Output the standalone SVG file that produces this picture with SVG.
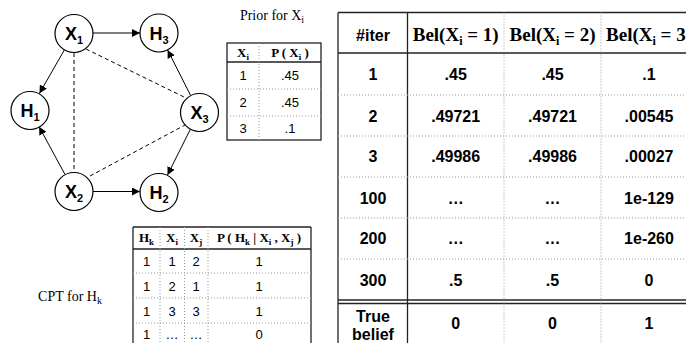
<svg xmlns="http://www.w3.org/2000/svg" width="686" height="343" viewBox="0 0 686 343">
<style>
.node{fill:#fff;stroke:#000;stroke-width:1.2}
.nl{font-family:"Liberation Sans",Arial,sans-serif;font-weight:bold;font-size:18px;text-anchor:middle}
.sub{font-size:11px}
.edge{stroke:#000;stroke-width:1;fill:none}
.dash{stroke:#000;stroke-width:1;fill:none;stroke-dasharray:4,3}
.tb{stroke:#222;stroke-width:1.3;fill:none}
.dot{stroke:#999;stroke-width:1;stroke-dasharray:1,2;fill:none}
.ts{font-family:"Liberation Serif","Times New Roman",serif;font-size:14px}
.th{font-family:"Liberation Serif","Times New Roman",serif;font-weight:bold;font-size:13px;text-anchor:middle}
.tc{font-family:"Liberation Sans",Arial,sans-serif;font-size:13px;text-anchor:middle}
.mh{font-family:"Liberation Serif","Times New Roman",serif;font-weight:bold;font-size:19px;text-anchor:middle}
.mc{font-family:"Liberation Sans",Arial,sans-serif;font-weight:bold;font-size:16px;text-anchor:middle}
</style>
<defs>
<marker id="arr" viewBox="0 0 10 10" refX="10" refY="5" markerWidth="8" markerHeight="8" markerUnits="userSpaceOnUse" orient="auto">
<path d="M0,0 L10,5 L0,10 z" fill="#000"/>
</marker>
</defs>
<g id="connectors">
<line class="edge" x1="93" y1="33" x2="140" y2="33" marker-end="url(#arr)"/>
<line class="edge" x1="64.6" y1="49.5" x2="39.4" y2="93.5" marker-end="url(#arr)"/>
<line class="edge" x1="64.9" y1="174.3" x2="39.1" y2="126.7" marker-end="url(#arr)"/>
<line class="edge" x1="93" y1="191.5" x2="140" y2="191.5" marker-end="url(#arr)"/>
<line class="edge" x1="190.4" y1="95" x2="167.6" y2="50" marker-end="url(#arr)"/>
<line class="edge" x1="190.5" y1="129" x2="167.5" y2="175" marker-end="url(#arr)"/>
<line class="dash" x1="74" y1="53" x2="74" y2="172"/>
<line class="dash" x1="86" y1="49" x2="184" y2="97"/>
<line class="dash" x1="90" y1="176" x2="185" y2="125"/>
</g>
<g id="X1"><circle class="node" cx="74" cy="33.5" r="19"/><text class="nl" x="74" y="40">X<tspan class="sub" dy="4">1</tspan></text></g>
<g id="H3"><circle class="node" cx="159" cy="33" r="19"/><text class="nl" x="159" y="39.5">H<tspan class="sub" dy="4">3</tspan></text></g>
<g id="H1"><circle class="node" cx="30" cy="110.5" r="19"/><text class="nl" x="30" y="117">H<tspan class="sub" dy="4">1</tspan></text></g>
<g id="X3"><circle class="node" cx="199.5" cy="112.5" r="19"/><text class="nl" x="199.5" y="119">X<tspan class="sub" dy="4">3</tspan></text></g>
<g id="X2"><circle class="node" cx="74" cy="191.5" r="19"/><text class="nl" x="74" y="198">X<tspan class="sub" dy="4">2</tspan></text></g>
<g id="H2"><circle class="node" cx="159" cy="192.5" r="19"/><text class="nl" x="159" y="199">H<tspan class="sub" dy="4">2</tspan></text></g>

<g id="prior">
<text class="ts" x="272" y="20" text-anchor="middle">Prior for X<tspan font-size="10" dy="3">i</tspan></text>
<rect class="tb" x="227" y="43" width="94" height="97"/>
<line class="tb" x1="227" y1="62" x2="321" y2="62"/>
<line class="dot" x1="227" y1="89" x2="321" y2="89"/>
<line class="dot" x1="227" y1="116" x2="321" y2="116"/>
<line class="dot" x1="259" y1="43" x2="259" y2="140"/>
<text class="th" x="243" y="57">X<tspan font-size="9" dy="3">i</tspan></text>
<text class="th" x="290" y="57">P ( X<tspan font-size="9" dy="3">i</tspan><tspan dy="-3"> )</tspan></text>
<text class="tc" x="243" y="80">1</text><text class="tc" x="290" y="80">.45</text>
<text class="tc" x="243" y="107">2</text><text class="tc" x="290" y="107">.45</text>
<text class="tc" x="243" y="133">3</text><text class="tc" x="290" y="133">.1</text>
</g>

<g id="cpt">
<text class="ts" x="70" y="301" text-anchor="middle">CPT for H<tspan font-size="10" dy="3">k</tspan></text>
<line class="tb" x1="133" y1="227" x2="311" y2="227"/>
<line class="tb" x1="133" y1="227" x2="133" y2="343"/>
<line class="tb" x1="311" y1="227" x2="311" y2="343"/>
<line class="tb" x1="133" y1="249" x2="311" y2="249"/>
<line class="dot" x1="133" y1="273" x2="311" y2="273"/>
<line class="dot" x1="133" y1="298" x2="311" y2="298"/>
<line class="dot" x1="133" y1="323" x2="311" y2="323"/>
<line class="dot" x1="160" y1="227" x2="160" y2="343"/>
<line class="dot" x1="184.5" y1="227" x2="184.5" y2="343"/>
<line class="dot" x1="208" y1="227" x2="208" y2="343"/>
<text class="th" x="146.5" y="242">H<tspan font-size="9" dy="3">k</tspan></text>
<text class="th" x="172" y="242">X<tspan font-size="9" dy="3">i</tspan></text>
<text class="th" x="196" y="242">X<tspan font-size="9" dy="3">j</tspan></text>
<text class="th" x="259" y="242">P ( H<tspan font-size="9" dy="3">k</tspan><tspan dy="-3"> | X</tspan><tspan font-size="9" dy="3">i</tspan><tspan dy="-3"> , X</tspan><tspan font-size="9" dy="3">j</tspan><tspan dy="-3"> )</tspan></text>
<text class="tc" x="146.5" y="266">1</text><text class="tc" x="172" y="266">1</text><text class="tc" x="196" y="266">2</text><text class="tc" x="259" y="266">1</text>
<text class="tc" x="146.5" y="290.5">1</text><text class="tc" x="172" y="290.5">2</text><text class="tc" x="196" y="290.5">1</text><text class="tc" x="259" y="290.5">1</text>
<text class="tc" x="146.5" y="315.5">1</text><text class="tc" x="172" y="315.5">3</text><text class="tc" x="196" y="315.5">3</text><text class="tc" x="259" y="315.5">1</text>
<text class="tc" x="146.5" y="339">1</text><text class="tc" x="172" y="339">…</text><text class="tc" x="196" y="339">…</text><text class="tc" x="259" y="339">0</text>
</g>

<g id="beliefs">
<line class="tb" x1="338" y1="12.5" x2="686" y2="12.5"/>
<line class="tb" x1="338" y1="12.5" x2="338" y2="343"/>
<line class="tb" x1="407.5" y1="12.5" x2="407.5" y2="343"/>
<line class="tb" x1="338" y1="53" x2="686" y2="53"/>
<line class="dot" x1="338" y1="95" x2="686" y2="95"/>
<line class="dot" x1="338" y1="136" x2="686" y2="136"/>
<line class="dot" x1="338" y1="177" x2="686" y2="177"/>
<line class="dot" x1="338" y1="218" x2="686" y2="218"/>
<line class="dot" x1="338" y1="259" x2="686" y2="259"/>
<line class="tb" x1="338" y1="300" x2="686" y2="300"/>
<line class="tb" x1="338" y1="303.5" x2="686" y2="303.5"/>
<line class="dot" x1="504" y1="12.5" x2="504" y2="343"/>
<line class="dot" x1="601" y1="12.5" x2="601" y2="343"/>
<text class="mc" x="373" y="40.5">#iter</text>
<text class="mh" x="455.7" y="41">Bel(X<tspan font-size="12" dy="4">i</tspan><tspan dy="-4"> = 1)</tspan></text>
<text class="mh" x="552.5" y="41">Bel(X<tspan font-size="12" dy="4">i</tspan><tspan dy="-4"> = 2)</tspan></text>
<text class="mh" x="649" y="41">Bel(X<tspan font-size="12" dy="4">i</tspan><tspan dy="-4"> = 3)</tspan></text>
<text class="mc" x="373" y="80">1</text><text class="mc" x="455.7" y="80">.45</text><text class="mc" x="552.5" y="80">.45</text><text class="mc" x="649" y="80">.1</text>
<text class="mc" x="373" y="121.5">2</text><text class="mc" x="455.7" y="121.5">.49721</text><text class="mc" x="552.5" y="121.5">.49721</text><text class="mc" x="649" y="121.5">.00545</text>
<text class="mc" x="373" y="162">3</text><text class="mc" x="455.7" y="162">.49986</text><text class="mc" x="552.5" y="162">.49986</text><text class="mc" x="649" y="162">.00027</text>
<text class="mc" x="373" y="203.5">100</text><text class="mc" x="455.7" y="203.5">…</text><text class="mc" x="552.5" y="203.5">…</text><text class="mc" x="649" y="203.5">1e-129</text>
<text class="mc" x="373" y="244">200</text><text class="mc" x="455.7" y="244">…</text><text class="mc" x="552.5" y="244">…</text><text class="mc" x="649" y="244">1e-260</text>
<text class="mc" x="373" y="286">300</text><text class="mc" x="455.7" y="286">.5</text><text class="mc" x="552.5" y="286">.5</text><text class="mc" x="649" y="286">0</text>
<text class="mc" x="373" y="322">True</text><text class="mc" x="373" y="340">belief</text>
<text class="mc" x="455.7" y="329">0</text><text class="mc" x="552.5" y="329">0</text><text class="mc" x="649" y="329">1</text>
</g>
</svg>
